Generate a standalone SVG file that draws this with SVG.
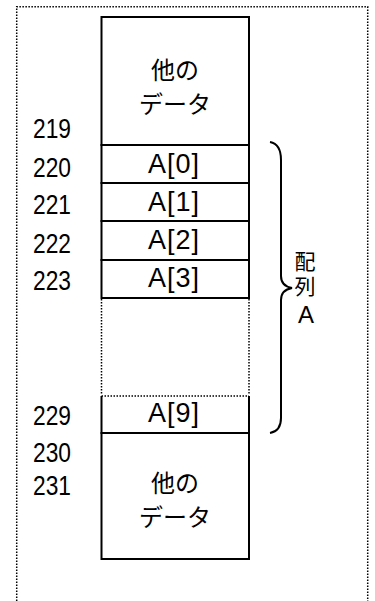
<svg xmlns="http://www.w3.org/2000/svg" width="375" height="601" viewBox="0 0 375 601">
<style>
.box{fill:#fff;stroke:#000;stroke-width:2}
.dot{fill:none;stroke:#000;stroke-width:1.5;stroke-dasharray:1.5 1.5}
.num{font-family:"Liberation Sans",Arial,sans-serif;font-size:28px;fill:#000}
.cell{font-family:"Liberation Sans",Arial,sans-serif;font-size:27px;fill:#000}
.jp{font-family:"Noto Sans CJK JP","Noto Sans",sans-serif;font-size:24px;fill:#000;text-anchor:middle}
.lbl{font-family:"Noto Sans CJK JP","Noto Sans",sans-serif;font-size:21px;fill:#000;text-anchor:middle}
.lblA{font-family:"Liberation Sans",Arial,sans-serif;font-size:24px}
</style>
<rect width="375" height="601" fill="#fff"/>
<g id="frame">
<path class="dot" d="M16.7,610 V6.7 H367.7 V610"/>
</g>
<g id="other-top">
<rect class="box" x="101.5" y="17" width="147.5" height="128"/>
<text class="jp" x="175" y="79">他の</text>
<text class="jp" x="175" y="113">データ</text>
</g>
<g id="a0"><rect class="box" x="101.5" y="145" width="147.5" height="38"/><text class="cell" x="148" y="172.5" textLength="51" lengthAdjust="spacing">A[0]</text></g>
<g id="a1"><rect class="box" x="101.5" y="183" width="147.5" height="38"/><text class="cell" x="148" y="210.5" textLength="51" lengthAdjust="spacing">A[1]</text></g>
<g id="a2"><rect class="box" x="101.5" y="221" width="147.5" height="39"/><text class="cell" x="148" y="249" textLength="51" lengthAdjust="spacing">A[2]</text></g>
<g id="a3"><rect class="box" x="101.5" y="260" width="147.5" height="38"/><text class="cell" x="148" y="287" textLength="51" lengthAdjust="spacing">A[3]</text></g>
<g id="gap"><path class="dot" d="M101.5,299 V395 M249,299 V395"/></g>
<g id="a9">
<path fill="#fff" stroke="#000" stroke-width="2" d="M101.5,396 V433 H249 V396"/>
<path class="dot" d="M101.5,396 H249"/>
<text class="cell" x="148" y="422" textLength="51" lengthAdjust="spacing">A[9]</text>
</g>
<g id="other-bottom">
<rect class="box" x="101.5" y="433" width="147.5" height="126"/>
<text class="jp" x="175" y="492">他の</text>
<text class="jp" x="175" y="526">データ</text>
</g>
<g id="addresses">
<text class="num" x="33" y="138" textLength="38" lengthAdjust="spacingAndGlyphs">219</text>
<text class="num" x="33" y="176.5" textLength="38" lengthAdjust="spacingAndGlyphs">220</text>
<text class="num" x="33" y="213.5" textLength="38" lengthAdjust="spacingAndGlyphs">221</text>
<text class="num" x="33" y="253" textLength="38" lengthAdjust="spacingAndGlyphs">222</text>
<text class="num" x="33" y="290" textLength="38" lengthAdjust="spacingAndGlyphs">223</text>
<text class="num" x="33" y="425" textLength="38" lengthAdjust="spacingAndGlyphs">229</text>
<text class="num" x="33" y="462" textLength="38" lengthAdjust="spacingAndGlyphs">230</text>
<text class="num" x="33" y="495" textLength="38" lengthAdjust="spacingAndGlyphs">231</text>
</g>
<g id="connectors">
<path fill="none" stroke="#000" stroke-width="2" d="M270,142 Q281,144 281,160 V276 Q281,286 292,288 Q281,290 281,300 V418 Q281,431 270,433"/>
</g>
<g id="array-label">
<text class="lbl"><tspan x="305" y="269">配</tspan><tspan x="305" y="294">列</tspan><tspan class="lblA" x="306" y="323">A</tspan></text>
</g>
</svg>
